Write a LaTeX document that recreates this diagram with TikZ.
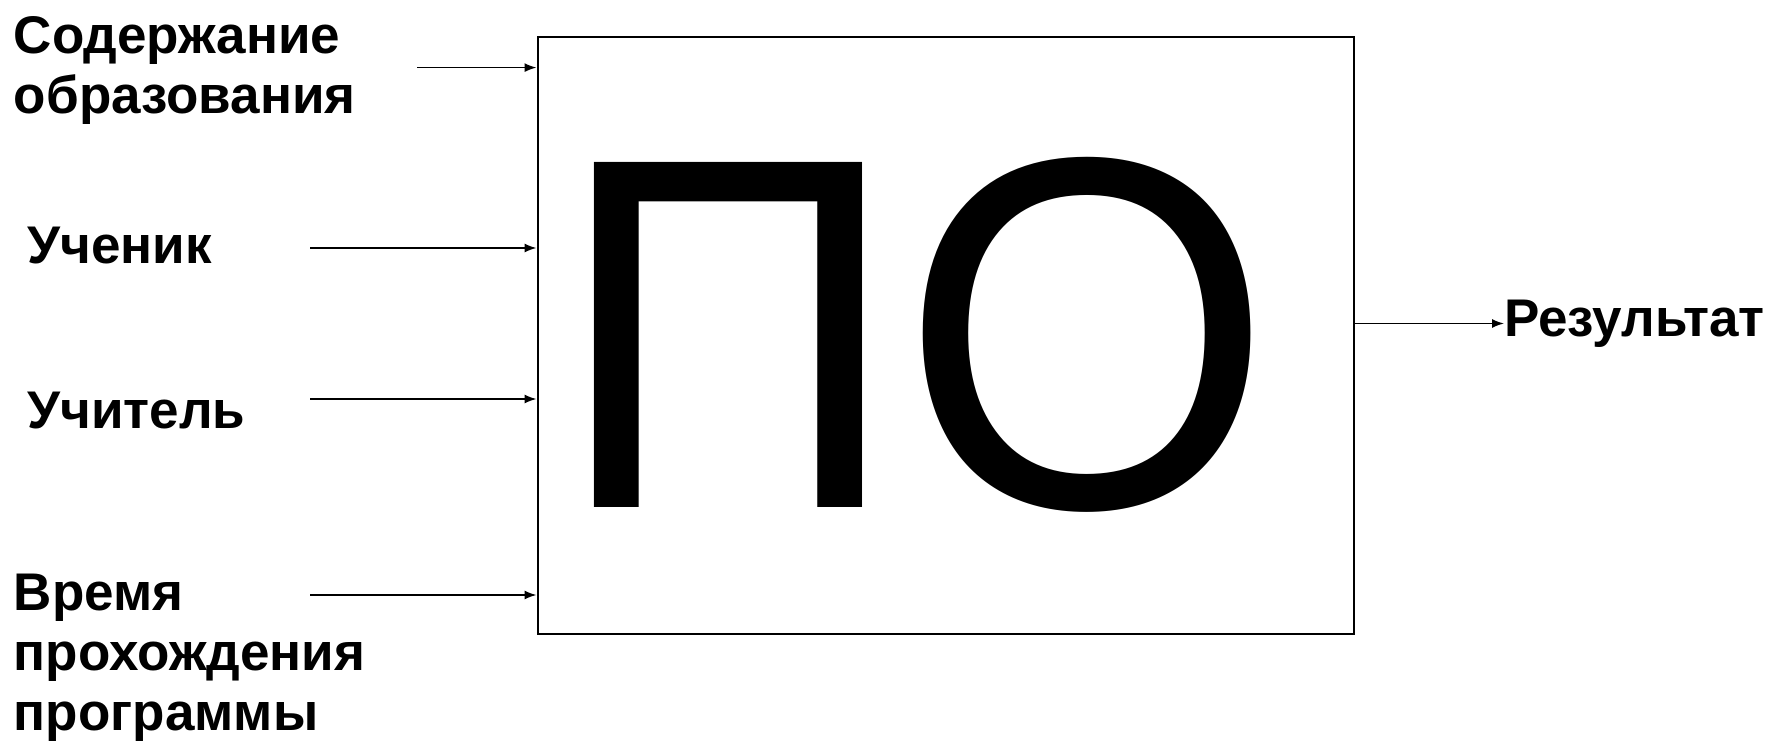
\documentclass[tikz,border=0pt]{standalone}
\usepackage{fontspec}
\setmainfont{Liberation Sans}
\usetikzlibrary{arrows.meta, positioning}

\begin{document}
\begin{tikzpicture}[
    x=0.5pt, y=-0.5pt, % one unit = one pixel of the reference
    >={Latex[length=6pt, width=4.5pt]}, % Default arrow tip
    lbl/.style={anchor=base west, inner sep=0pt, align=left,
      font=\fontsize{26.5}{30}\selectfont\bfseries}, % Style for inputs
    flow/.style={->, line width=0.75pt}, % Style for arrows
  ]
  \useasboundingbox (0,0) rectangle (1767,747);

  % Block
  \node[draw, line width=1pt, inner sep=0pt,
    minimum width=408pt, minimum height=298.5pt] (po) at (945.5,335.8) {};
  \node[anchor=base, inner sep=0pt, font=\fontsize{240}{240}\selectfont]
    (potext) at (914.5,508) {\scalebox{1}[1.045]{ПО}};

  % Eingänge (base = last line)
  \node[lbl] (content) at (13.5,114) {Содержание\\образования};
  \node[lbl] (pupil) at (27,264) {Ученик};
  \node[lbl] (teacher) at (27,429) {Учитель};
  \node[lbl] (time) at (13.5,731) {Время\\прохождения\\программы};

  % Ausgang
  \node[lbl, anchor=west] (result) at (1504,323.5) {Результат};

  % Pfeile
  \coordinate (in1) at (417,67.6);
  \coordinate (in2) at (310,248);
  \coordinate (in3) at (310,399);
  \coordinate (in4) at (310,595);
  \foreach \c in {in1, in2, in3, in4}
    \draw[flow] (\c) -- (\c -| po.west);
  \draw[flow] (po.east |- result.west) -- (result.west);
\end{tikzpicture}
\end{document}
